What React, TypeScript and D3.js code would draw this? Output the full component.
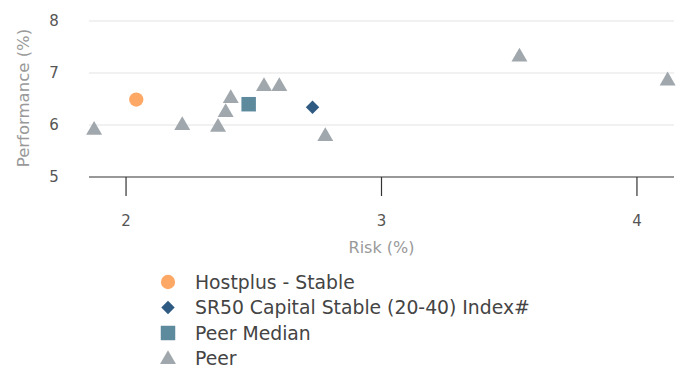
import React from "react";
import * as d3 from "d3";

const xTicks = [2, 3, 4];
const yTicks = [5, 6, 7, 8];

const hostplusRisk = [2.04];
const hostplusPerf = [6.49];
const indexRisk = [2.73];
const indexPerf = [6.34];
const medianRisk = [2.48];
const medianPerf = [6.4];
const peerRisk = [1.875, 2.22, 2.36, 2.39, 2.41, 2.54, 2.6, 2.78, 3.54, 4.12];
const peerPerf = [5.9, 5.99, 5.96, 6.24, 6.51, 6.74, 6.74, 5.78, 7.31, 6.85];

const legendLabels = ["Hostplus - Stable", "SR50 Capital Stable (20-40) Index#", "Peer Median", "Peer"];

const COLORS = {
  hostplus: "#fea866",
  index: "#2f5b83",
  median: "#5e8a9e",
  peer: "#a0a7ad",
};

const W = 685;
const H = 372;
const plot = { left: 89, right: 674, top: 21, bottom: 177 };

export default function App() {
  const x = d3.scaleLinear().domain([1.855, 4.145]).range([plot.left, plot.right]);
  const y = d3.scaleLinear().domain([5, 8]).range([plot.bottom, plot.top]);

  const tri = d3.symbol().type(d3.symbolTriangle).size(110)()!;
  const sq = d3.symbol().type(d3.symbolSquare).size(210)()!;
  const dia = d3.symbol().type(d3.symbolSquare).size(90)()!;
  const circ = d3.symbol().type(d3.symbolCircle).size(160)()!;

  const font = "'DejaVu Sans', Verdana, sans-serif";

  const legendMarker = (i: number) => {
    if (i === 0) return <path d={circ} fill={COLORS.hostplus} />;
    if (i === 1) return <path d={dia} transform="rotate(45)" fill={COLORS.index} />;
    if (i === 2) return <path d={sq} fill={COLORS.median} />;
    return <path d={tri} transform="translate(0,1)" fill={COLORS.peer} />;
  };

  return (
    <svg width={W} height={H} style={{ position: "absolute", left: 0, top: 0, fontFamily: font }}>
      {/* gridlines */}
      {yTicks.filter((t) => t !== 5).map((t) => (
        <line key={t} x1={plot.left} x2={plot.right} y1={y(t)} y2={y(t)} stroke="#e3e3e3" strokeWidth={1.2} />
      ))}
      {/* y tick labels */}
      {yTicks.map((t) => (
        <text key={t} x={54} y={y(t)} dy="0.35em" textAnchor="middle" fontSize={15} fill="#555">
          {t}
        </text>
      ))}
      {/* x axis */}
      <line x1={plot.left} x2={plot.right} y1={plot.bottom} y2={plot.bottom} stroke="#333" strokeWidth={1.2} />
      {xTicks.map((t) => (
        <g key={t} transform={`translate(${x(t)},0)`}>
          <line y1={plot.bottom} y2={plot.bottom + 19} stroke="#333" strokeWidth={1.2} />
          <text y={221} dy="0.35em" textAnchor="middle" fontSize={15} fill="#555">
            {t}
          </text>
        </g>
      ))}
      <text x={x(3)} y={247} dy="0.35em" textAnchor="middle" fontSize={16} fill="#999">
        Risk (%)
      </text>
      <text
        transform={`translate(23,${(plot.top + plot.bottom) / 2 - 1}) rotate(-90)`}
        textAnchor="middle"
        dy="0.35em"
        fontSize={16.5}
        fill="#999"
      >
        Performance (%)
      </text>

      {/* peers */}
      {peerRisk.map((r, i) => (
        <path key={i} d={tri} transform={`translate(${x(r)},${y(peerPerf[i])})`} fill={COLORS.peer} />
      ))}
      {medianRisk.map((r, i) => (
        <path key={i} d={sq} transform={`translate(${x(r)},${y(medianPerf[i])})`} fill={COLORS.median} />
      ))}
      {indexRisk.map((r, i) => (
        <path key={i} d={dia} transform={`translate(${x(r)},${y(indexPerf[i])}) rotate(45)`} fill={COLORS.index} />
      ))}
      {hostplusRisk.map((r, i) => (
        <path key={i} d={circ} transform={`translate(${x(r)},${y(hostplusPerf[i])})`} fill={COLORS.hostplus} />
      ))}

      {/* legend */}
      {legendLabels.map((l, i) => (
        <g key={l} transform={`translate(168,${282 + i * 25.5})`}>
          {legendMarker(i)}
          <text x={27} dy="0.35em" fontSize={18.8} fill="#444">
            {l}
          </text>
        </g>
      ))}
    </svg>
  );
}
